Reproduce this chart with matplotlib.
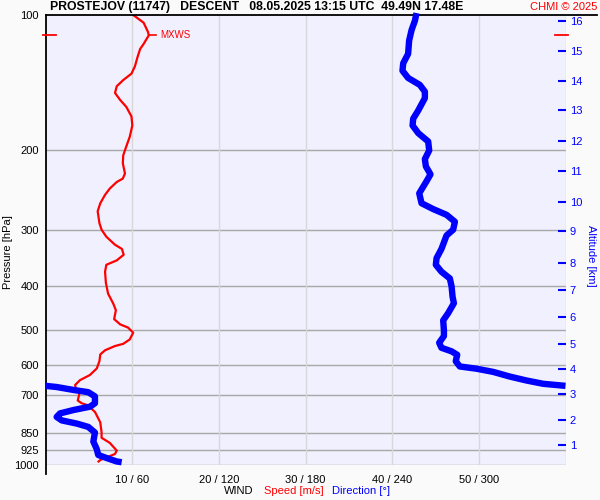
import numpy as np
import matplotlib
matplotlib.use("Agg")
import matplotlib.pyplot as plt
import matplotlib.transforms as mtrans

plt.rcParams['font.family'] = ['Liberation Sans', 'DejaVu Sans']

# wind speed profile (pressure hPa, speed m/s), top -> bottom
ws_p = [100, 104, 109, 111, 113, 116, 119, 124, 130, 135, 139.5, 144, 149, 154.5, 160,
        168, 176, 186.5, 196, 205, 213.5, 225, 231, 235, 243, 251, 262, 273, 290, 300,
        311, 324, 331, 341, 351, 359, 372, 394, 416, 438, 453, 474, 487, 495, 508, 526,
        538, 544, 556, 568, 588, 610, 631, 648, 664, 681, 693, 719, 729, 737, 763, 804,
        847, 870, 893, 929, 945, 959, 975, 982]
ws = [10.1, 11.3, 11.8, 11.9, 11.65, 11.3, 10.9, 10.6, 10.3, 9.9, 8.95, 8.2, 8.0, 8.6, 9.3,
      9.9, 10.0, 9.7, 9.3, 8.95, 8.9, 9.15, 8.9, 8.2, 7.4, 6.85, 6.3, 6.0, 6.2, 6.45,
      7.0, 8.0, 8.8, 9.0, 8.2, 7.0, 6.85, 6.95, 7.2, 7.8, 8.1, 7.9, 8.6, 9.5, 10.1, 9.7,
      8.95, 8.0, 6.85, 6.3, 6.2, 5.9, 5.1, 3.95, 3.4, 3.5, 3.9, 3.7, 4.15, 4.9, 5.7, 6.3,
      6.45, 6.45, 7.4, 8.2, 8.0, 7.2, 6.3, 6.1]

# wind direction profile (pressure hPa, direction deg), top -> bottom
wd_p = [99, 103, 108, 114, 122, 128, 133, 138, 143, 148, 153, 163, 170, 176, 183, 191,
        200, 209, 217, 226, 234, 249, 262, 270, 278, 288, 300, 309, 331, 347, 359, 372,
        385, 401, 423, 437, 460, 477, 503, 517, 535, 549, 559, 569, 588, 604, 611, 621,
        636, 649, 660, 667, 667, 671, 681, 689, 704, 729, 742, 755, 768, 782, 796, 809,
        823, 847, 887, 921, 950, 965, 982, 986]
wd = [256.8, 255.7, 253.4, 251.7, 251.0, 247.6, 247.1, 251.0, 259.1, 262.6, 262.6, 258.0,
      254.5, 254.1, 258.0, 264.9, 265.6, 262.6, 263.3, 266.5, 263.8, 258.7, 260.3, 268.4,
      277.6, 283.4, 282.2, 277.6, 274.1, 270.7, 270.2, 274.1, 279.9, 281.1, 281.8, 282.7,
      278.7, 275.3, 275.8, 275.8, 272.5, 274.1, 281.1, 285.0, 284.0, 286.8, 298.4, 309.9,
      321.4, 333.0, 344.5, 360.0, 0.0, 7.6, 19.1, 29.5, 34.1, 34.1, 30.7, 19.1, 9.9, 7.6,
      11.1, 21.5, 29.5, 34.1, 33.0, 35.3, 36.4, 42.2, 49.1, 52.6]

p_levels = [100, 200, 300, 400, 500, 600, 700, 850, 925, 1000]
speed_ticks = [10, 20, 30, 40, 50]
speed_labels = ["10 / 60", "20 / 120", "30 / 180", "40 / 240", "50 / 300"]
alt_km = list(range(1, 17))
alt_p = [902, 794, 695, 612, 538, 468, 408, 355, 302, 260, 222, 190.5, 162.6, 140, 120.2, 103.1]

RED = "#ff0000"
BLUE = "#0000ff"

fig = plt.figure(figsize=(6, 5), dpi=100, facecolor="#fafafa")
ax = fig.add_axes([45.7 / 600, 35 / 500, 519.8 / 600, 450 / 500])
ax.set_facecolor("#f0f0ff")
ax.set_yscale("log")
ax.set_ylim(1000, 100)
ax.set_xlim(0, 60)

for p in p_levels[1:]:
    ax.axhline(p, color="#a8a8a8", lw=1, zorder=1)
for s in [10, 20, 30, 40, 50, 60]:
    ax.axvline(s, color="#d8d8d8", lw=1, zorder=1)

ax.set_yticks(p_levels)
ax.set_yticklabels([str(p) for p in p_levels])
ax.yaxis.set_minor_locator(matplotlib.ticker.NullLocator())
ax.set_xticks(speed_ticks)
ax.set_xticklabels(speed_labels)
ax.tick_params(axis="both", length=0, labelsize=8)
ax.tick_params(axis="x", pad=7)
ax.tick_params(axis="y", pad=5)
for s in ax.spines.values():
    s.set_visible(False)

# spines drawn by hand (they reach past the plot area)
ax.plot([0, 1.06], [1, 1], transform=ax.transAxes, color="black", lw=1.3, clip_on=False, zorder=5)
ax.plot([0, 0], [1, -0.02], transform=ax.transAxes, color="black", lw=1.3, clip_on=False, zorder=5)

# speed
ax.plot(ws, ws_p, color=RED, lw=1.6, zorder=4)

# max wind marker
i = int(np.argmax(ws))
p_mx = ws_p[i]
blend = mtrans.blended_transform_factory(ax.transAxes, ax.transData)
ax.plot([-0.005, 0.02], [p_mx, p_mx], transform=blend, color=RED, lw=1.3, clip_on=False, zorder=6)
ax.plot([0.979, 1.004], [p_mx, p_mx], transform=blend, color=RED, lw=1.3, clip_on=False, zorder=6)
ax.plot([ws[i], ws[i] + 0.85], [p_mx, p_mx], color=RED, lw=1.2, zorder=6)
ax.annotate("MXWS", (ws[i] + 0.85, p_mx), xytext=(3, 0), textcoords="offset points",
            color=RED, fontsize=7, va="center", ha="left")

# direction on its own x scale
axd = ax.twiny()
axd.set_xlim(0, 360)
axd.set_ylim(1000, 100)
axd.set_xticks([])
for s in axd.spines.values():
    s.set_visible(False)
d = np.array(wd, dtype=float)
pp = np.array(wd_p, dtype=float)
jumps = np.where(np.abs(np.diff(d)) > 180)[0] + 1
d = np.insert(d, jumps, np.nan)
pp = np.insert(pp, jumps, np.nan)
axd.plot(d, pp, color=BLUE, lw=4.6, solid_capstyle="butt", clip_on=False, zorder=3)

# altitude axis
axa = ax.twinx()
axa.set_yscale("log")
axa.set_ylim(1000, 100)
axa.set_yticks(alt_p)
axa.set_yticklabels([str(k) for k in alt_km])
axa.yaxis.set_minor_locator(matplotlib.ticker.NullLocator())
axa.tick_params(axis="y", direction="in", length=6, width=1.5, color=BLUE,
                labelcolor=BLUE, labelsize=8, pad=3)
for s in axa.spines.values():
    s.set_visible(False)

fig.text(50 / 600, 1 - 7 / 500,
         "PROSTEJOV (11747)   DESCENT   08.05.2025 13:15 UTC  49.49N 17.48E",
         fontsize=8.8, fontweight="bold", ha="left", va="center")
fig.text(597 / 600, 1 - 7 / 500, "CHMI \u00a9 2025", color=RED, fontsize=8,
         ha="right", va="center")
fig.text(8 / 600, 1 - 252 / 500, "Pressure [hPa]", rotation=90, fontsize=8,
         ha="center", va="center")
fig.text(591 / 600, 1 - 256 / 500, "Altitude [km]", rotation=270, color=BLUE,
         fontsize=8, ha="center", va="center")
fig.text(224 / 600, 1 - 491 / 500, "WIND", fontsize=8, ha="left", va="center")
fig.text(264 / 600, 1 - 491 / 500, "Speed [m/s]", color=RED, fontsize=8, ha="left", va="center")
fig.text(332 / 600, 1 - 491 / 500, "Direction [\u00b0]", color=BLUE, fontsize=8, ha="left", va="center")

fig.savefig("out.png", dpi=100, facecolor=fig.get_facecolor())
